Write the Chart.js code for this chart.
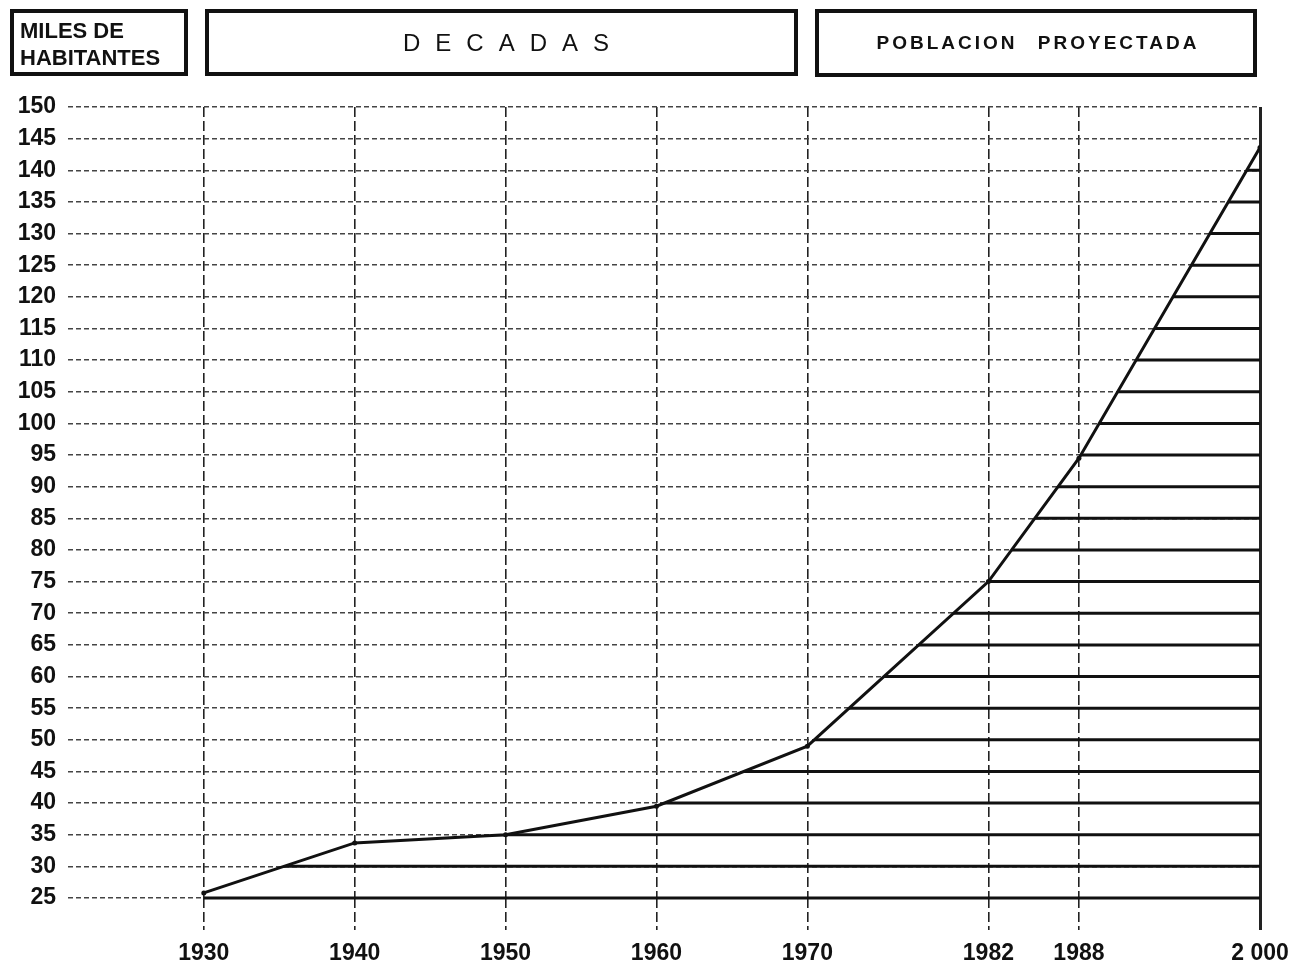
<!DOCTYPE html>
<html>
<head>
<meta charset="utf-8">
<script src="https://cdn.jsdelivr.net/npm/chart.js@4"></script>
<style>
  body { margin: 0; background: #fff; }
  #wrap { position: relative; width: 1299px; height: 969px; }
  #chart { position: absolute; left: 0; top: 0; }
  .box {
    position: absolute;
    border: 4px solid #111;
    box-sizing: border-box;
    font-family: "Liberation Sans", sans-serif;
    color: #111;
  }
  #b1 { left: 10px; top: 9px; width: 178px; height: 67px; font-size: 22px; font-weight: bold; line-height: 27px; padding: 4px 0 0 6px; }
  #b2 { left: 205px; top: 9px; width: 593px; height: 67px; font-size: 24px; letter-spacing: 15px; text-align: center; line-height: 59px; padding-left: 24px; }
  #b3 { left: 815px; top: 9px; width: 442px; height: 68px; font-size: 19px; font-weight: bold; letter-spacing: 3px; text-align: center; line-height: 60px; word-spacing: 12px; padding-left: 4px; }
</style>
</head>
<body>
<div id="wrap">
  <canvas id="chart" width="1299" height="969"></canvas>
  <div class="box" id="b1">MILES DE<br>HABITANTES</div>
  <div class="box" id="b2">DECADAS</div>
  <div class="box" id="b3">POBLACION PROYECTADA</div>
</div>
<script>
// data ----------------------------------------------------------->
const years = [1930, 1940, 1950, 1960, 1970, 1982, 1988, 2000];
const population = [25.8, 33.7, 35, 39.5, 49, 75, 94.5, 143.6]; // miles de habitantes
const yearTicks = [1930, 1940, 1950, 1960, 1970, 1982, 1988, 2000];
const yMin = 25;
const yMax = 150;
const yStep = 5;

const labelFont = { family: 'Liberation Sans', size: 23, weight: 'bold' };

// solid horizontal lines on the side of the curve that lies below it
const hatchPlugin = {
    id: 'hatch',
    beforeDatasetsDraw(chart) {
        const { ctx, chartArea, scales } = chart;
        const pts = chart.getDatasetMeta(0).data;
        if (!pts.length) return;
        ctx.save();
        ctx.beginPath();
        ctx.moveTo(pts[0].x, pts[0].y);
        for (let i = 1; i < pts.length; i++) {
            ctx.lineTo(pts[i].x, pts[i].y);
        }
        ctx.lineTo(chartArea.right + 3, pts[pts.length - 1].y);
        ctx.lineTo(chartArea.right + 3, chartArea.bottom + 4);
        ctx.lineTo(pts[0].x, chartArea.bottom + 4);
        ctx.closePath();
        ctx.clip();
        ctx.strokeStyle = '#111';
        ctx.lineWidth = 3;
        scales.y.ticks.forEach(t => {
            const y = scales.y.getPixelForValue(t.value);
            ctx.beginPath();
            ctx.moveTo(chartArea.left, y);
            ctx.lineTo(chartArea.right, y);
            ctx.stroke();
        });
        ctx.restore();
    }
};

const ctx = document.getElementById('chart');
const popChart = new Chart(ctx, {
    type: 'line',
    data: {
        datasets: [{
            label: 'Poblacion',
            data: years.map((yr, i) => ({ x: yr, y: population[i] })),
            borderColor: '#111',
            borderWidth: 3,
            pointRadius: 2.5,
            pointBackgroundColor: '#111',
            pointBorderWidth: 0,
            tension: 0
        }]
    },
    options: {
        responsive: false,
        animation: false,
        layout: { padding: { top: 107, right: 39, left: 0, bottom: 0 } },
        plugins: { legend: { display: false }, tooltip: { enabled: false } },
        scales: {
            x: {
                type: 'linear',
                min: 1921,
                max: 2000,
                afterBuildTicks: axis => { axis.ticks = yearTicks.map(v => ({ value: v })); },
                afterFit: axis => { axis.height = 71; },
                ticks: {
                    autoSkip: false,
                    maxRotation: 0,
                    padding: 10,
                    color: '#111',
                    font: labelFont,
                    callback: v => (v === 2000 ? '2 000' : String(v))
                },
                grid: {
                    color: '#222',
                    lineWidth: c => (c.tick && c.tick.value === 2000 ? 3 : 1.6),
                    tickLength: 32,
                    tickColor: '#222',
                    tickWidth: c => (c.tick && c.tick.value === 2000 ? 3 : 1.6),
                    tickBorderDash: c => (c.tick && c.tick.value === 2000 ? [] : [10, 4])
                },
                border: {
                    display: false,
                    dash: c => (c.tick && c.tick.value === 2000 ? [] : [10, 4])
                }
            },
            y: {
                min: yMin,
                max: yMax,
                afterFit: axis => { axis.width = 68; },
                ticks: {
                    stepSize: yStep,
                    padding: 12,
                    color: '#111',
                    font: labelFont
                },
                grid: {
                    color: '#444',
                    lineWidth: 1.5,
                    drawTicks: false,
                    tickLength: 0
                },
                border: { display: false, dash: [5, 3] }
            }
        }
    },
    plugins: [hatchPlugin]
});
</script>
</body>
</html>
